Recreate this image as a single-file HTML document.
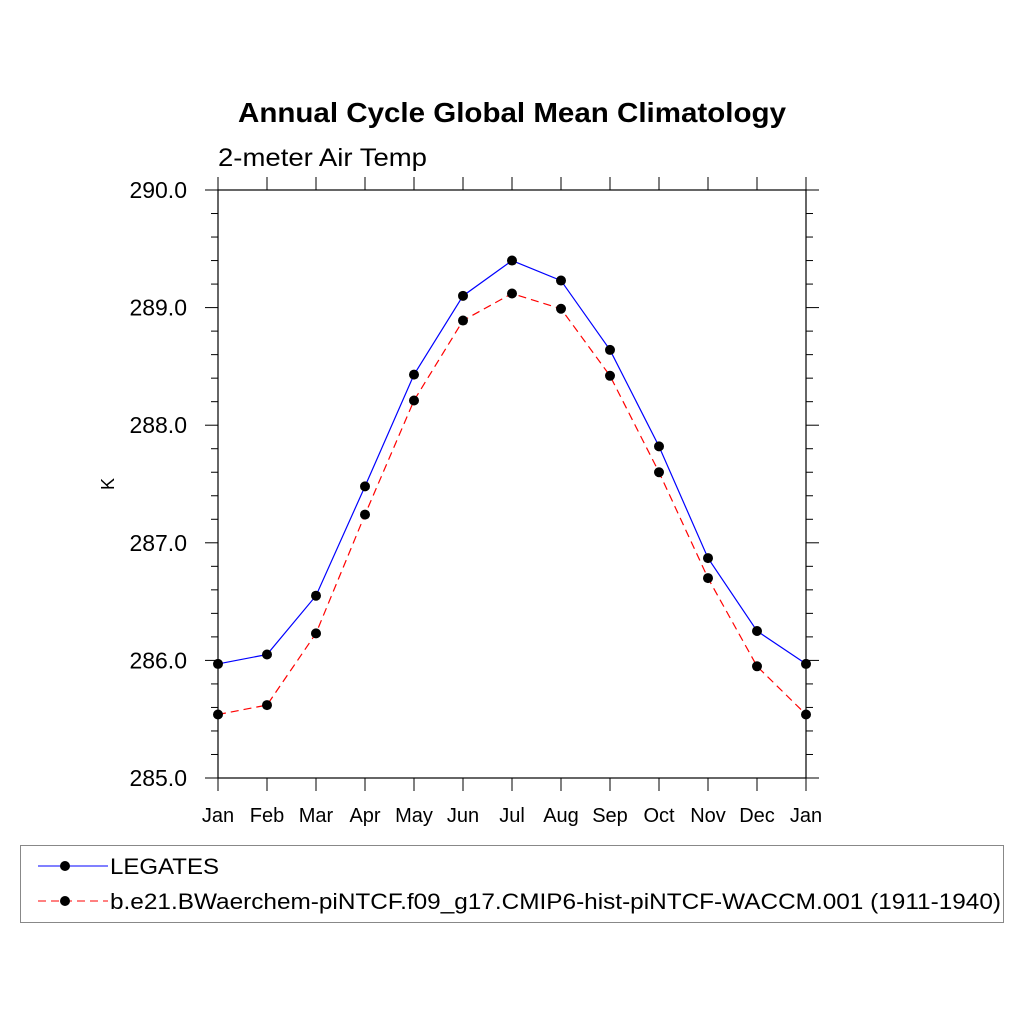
<!DOCTYPE html>
<html><head><meta charset="utf-8"><style>
body{margin:0;background:#fff;}
svg{display:block;font-family:"Liberation Sans",Arial,sans-serif;}
</style></head><body>
<svg id="chart" width="1024" height="1024" viewBox="0 0 1024 1024">
<rect width="1024" height="1024" fill="#fff"/>
<text x="238" y="122" font-size="28" font-weight="bold" textLength="548" lengthAdjust="spacingAndGlyphs">Annual Cycle Global Mean Climatology</text>
<text x="218" y="166" font-size="25" textLength="209" lengthAdjust="spacingAndGlyphs">2-meter Air Temp</text>
<text transform="translate(114,484) rotate(-90)" text-anchor="middle" font-size="18">K</text>
<g id="axes"></g>
<g id="series"></g>
<g>
<rect x="20.5" y="845.5" width="983" height="77" fill="none" stroke="#888" stroke-width="1"/>
<g>
<line x1="38" y1="866" x2="108" y2="866" stroke="#0000ff" stroke-width="1"/>
<circle cx="65" cy="866" r="5" fill="#000"/>
<text x="110" y="874" font-size="22" textLength="109" lengthAdjust="spacingAndGlyphs">LEGATES</text>
</g>
<g>
<line x1="38" y1="901" x2="108" y2="901" stroke="#ff0000" stroke-width="1" stroke-dasharray="8,5"/>
<circle cx="65" cy="901" r="5" fill="#000"/>
<text x="110" y="909" font-size="22" textLength="891" lengthAdjust="spacingAndGlyphs">b.e21.BWaerchem-piNTCF.f09_g17.CMIP6-hist-piNTCF-WACCM.001 (1911-1940)</text>
</g>
</g>
</svg>
<script>
const months=["Jan","Feb","Mar","Apr","May","Jun","Jul","Aug","Sep","Oct","Nov","Dec","Jan"];
const legates=[285.97,286.05,286.55,287.48,288.43,289.10,289.40,289.23,288.64,287.82,286.87,286.25,285.97];
const model=[285.54,285.62,286.23,287.24,288.21,288.89,289.12,288.99,288.42,287.60,286.70,285.95,285.54];
const yTicks=[285,286,287,288,289,290];
const yTickLabels=["285.0","286.0","287.0","288.0","289.0","290.0"];
const L=218,R=806,T=190,B=778,yMin=285,yMax=290;
const NS="http://www.w3.org/2000/svg";
const xs=i=>L+i*(R-L)/(months.length-1);
const ys=v=>B-(v-yMin)/(yMax-yMin)*(B-T);
function mk(tag,attrs,parent){const e=document.createElementNS(NS,tag);for(const k in attrs)e.setAttribute(k,attrs[k]);parent.appendChild(e);return e;}
const ax=document.getElementById('axes');
const frame=mk('rect',{x:L,y:T,width:R-L,height:B-T,fill:'none',stroke:'#000','stroke-width':1.2},ax);


months.forEach((m,i)=>{
 const x=xs(i);
 mk('line',{x1:x,y1:T,x2:x,y2:T-13,stroke:'#000'},ax);
 mk('line',{x1:x,y1:B,x2:x,y2:B+13,stroke:'#000'},ax);
 const t=mk('text',{x:x,y:B+44,'text-anchor':'middle','font-size':20},ax);
 t.textContent=m;
 
 
});
for(let v=yMin;v<=yMax+1e-9;v+=0.2){
 const y=ys(v);const major=Math.abs(v-Math.round(v))<1e-6;const len=major?13:7;
 mk('line',{x1:L,y1:y,x2:L-len,y2:y,stroke:'#000'},ax);
 mk('line',{x1:R,y1:y,x2:R+len,y2:y,stroke:'#000'},ax);
}
yTicks.forEach((v,i)=>{
 const t=mk('text',{x:L-31,y:ys(v)+8,'text-anchor':'end','font-size':23},ax);
 t.textContent=yTickLabels[i];
 
 
});
const sg=document.getElementById('series');
function series(vals,color,dash,name){
 const g=mk('g',{},sg);
 
 
 const p=mk('polyline',{points:vals.map((v,i)=>xs(i)+','+ys(v)).join(' '),fill:'none',stroke:color,'stroke-width':1.2},g);
 if(dash)p.setAttribute('stroke-dasharray',dash);
 vals.forEach((v,i)=>{
  const c=mk('circle',{cx:xs(i),cy:ys(v),r:5,fill:'#000'},g);
  
  
 });
}
series(legates,'#0000ff',null,'legates-series');
series(model,'#ff0000','8,5','model-series');
</script>
</body></html>
